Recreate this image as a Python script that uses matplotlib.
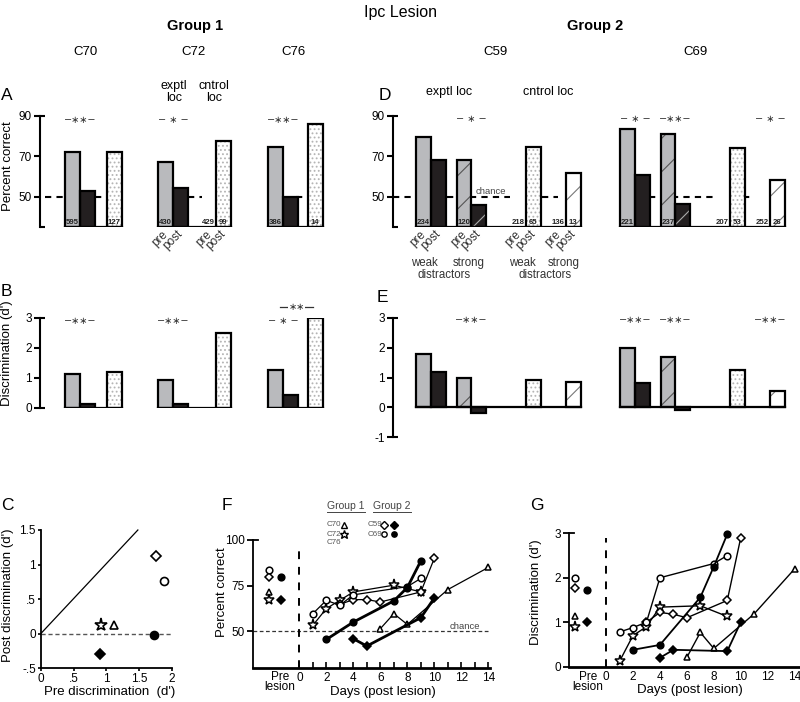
import matplotlib
matplotlib.use('Agg')
import matplotlib.pyplot as plt
from matplotlib.lines import Line2D

plt.rcParams['font.family'] = ['Liberation Sans', 'DejaVu Sans']
plt.rcParams['hatch.linewidth'] = 0.8

W, H = 800, 702

# ---------------- data ----------------
# Group 1: pre / post lesion at exptl loc, post at control loc
g1_names = ['C70', 'C72', 'C76']
g1_pct_pre = [72.3, 67.3, 74.5]
g1_pct_post = [53.0, 54.2, 50.0]
g1_pct_ctrl = [72.3, 77.8, 86.0]
g1_d_pre = [1.12, 0.91, 1.25]
g1_d_post = [0.13, 0.11, 0.41]
g1_d_ctrl = [1.19, 2.5, 3.0]
g1_n_pre = ['595', '430', '386']
g1_n_ctrl_pre = ['', '429', '']
g1_n_ctrl = ['127', '99', '14']
g1_sig_pct = ['−∗∗−', '− ∗ −', '−∗∗−']
g1_sig_d = ['−∗∗−', '−∗∗−', '− ∗ −']

# Group 2: weak / strong distractors, exptl and control loc
g2_names = ['C59', 'C69']
g2_pct_weak_pre = [79.5, 83.6]
g2_pct_weak_post = [68.2, 60.6]
g2_pct_strong_pre = [68.2, 81.1]
g2_pct_strong_post = [45.7, 46.4]
g2_pct_ctrl_weak = [74.5, 74.0]
g2_pct_ctrl_strong = [61.9, 58.3]
g2_d_weak_pre = [1.8, 2.0]
g2_d_weak_post = [1.2, 0.82]
g2_d_strong_pre = [1.0, 1.7]
g2_d_strong_post = [-0.2, -0.1]
g2_d_ctrl_weak = [0.9, 1.25]
g2_d_ctrl_strong = [0.85, 0.55]
g2_n_weak_pre = ['234', '221']
g2_n_strong_pre = ['120', '237']
g2_n_ctrl_weak_pre = ['218', '207']
g2_n_ctrl_weak_post = ['65', '53']
g2_n_ctrl_strong_pre = ['136', '252']
g2_n_ctrl_strong_post = ['13', '26']
g2_sig_pct = [['', '− ∗ −', ''], ['− ∗ −', '−∗∗−', '− ∗ −']]
g2_sig_d = [['', '−∗∗−', ''], ['−∗∗−', '−∗∗−', '−∗∗−']]

# Panel C: pre vs post d'
c_series = ['C70', 'C72', 'C59s', 'C59w', 'C69w', 'C69s']
c_pre = [1.12, 0.92, 0.91, 1.76, 1.88, 1.72]
c_post = [0.13, 0.13, -0.30, 1.13, 0.76, -0.02]

# Panels F / G: recovery after lesion
series = ['C70', 'C72', 'C59w', 'C59s', 'C69w', 'C69s']
days = {
    'C70': [6, 7, 8, 11, 14],
    'C72': [1, 2, 3, 4, 7, 9],
    'C59w': [3, 4, 5, 6, 9, 10],
    'C59s': [4, 5, 9, 10],
    'C69w': [1, 2, 3, 4, 8, 9],
    'C69s': [2, 4, 7, 8, 9],
}
pct_days = {
    'C70': [51.5, 59.7, 53.8, 72.9, 85.0],
    'C72': [53.3, 62.5, 67.0, 71.6, 75.3, 71.6],
    'C59w': [64.8, 67.4, 67.4, 66.1, 71.6, 90.0],
    'C59s': [46.0, 42.0, 57.5, 68.3],
    'C69w': [59.7, 67.0, 64.3, 70.0, 74.5, 79.0],
    'C69s': [45.6, 55.1, 66.7, 74.0, 88.6],
}
d_days = {
    'C70': [0.21, 0.77, 0.41, 1.19, 2.2],
    'C72': [0.12, 0.7, 0.9, 1.34, 1.37, 1.13],
    'C59w': [1.0, 1.22, 1.18, 1.1, 1.49, 2.9],
    'C59s': [0.2, 0.38, 0.35, 1.0],
    'C69w': [0.78, 0.88, 1.0, 2.0, 2.32, 2.5],
    'C69s': [0.38, 0.49, 1.56, 2.25, 2.98],
}
pct_prelesion = {'C69w': 83.5, 'C59w': 79.8, 'C69s': 79.8, 'C70': 71.6, 'C72': 67.0, 'C59s': 67.0}
d_prelesion = {'C69w': 2.0, 'C59w': 1.77, 'C69s': 1.72, 'C70': 1.13, 'C72': 0.9, 'C59s': 1.0}

# ---------------- style ----------------
GRAY = '#b9babd'
BLACK = '#231f20'
MK = {'C70': ('^', False, 5), 'C72': ('*', False, 8), 'C59w': ('D', False, 4.5),
      'C59s': ('D', True, 4.5), 'C69w': ('o', False, 4.8), 'C69s': ('o', True, 4.8)}
STY = {
    'pre': (GRAY, None, None),
    'post': (BLACK, None, None),
    'ctrl': ('white', '....', '#b5b5b5'),
    'spre': (GRAY, '/', '#555555'),
    'spost': (BLACK, '/', '#aaaaaa'),
    'sctrl': ('white', '/', '#777777'),
}
BW = 14.5

fig = plt.figure(figsize=(W / 100, H / 100), dpi=100)


def fx(x):
    return x / W


def fy(y):
    return 1 - y / H


def ftext(x, y, s, **kw):
    fig.text(fx(x), fy(y), s, **kw)


def px_axes(x0, y0, x1, y1):
    ax = fig.add_axes([x0 / W, 1 - y1 / H, (x1 - x0) / W, (y1 - y0) / H])
    ax.patch.set_alpha(0)
    return ax


def bar_axis(ax, x0, x1, ylo, yhi, ticks):
    ax.set_xlim(x0, x1)
    ax.set_ylim(ylo, yhi)
    for s in ['top', 'right', 'bottom']:
        ax.spines[s].set_visible(False)
    ax.spines['left'].set_linewidth(1.5)
    ax.set_xticks([])
    ax.set_yticks(ticks)
    ax.set_yticklabels([f'{t:g}' for t in ticks])
    ax.tick_params(axis='y', direction='out', length=4, width=1.5, labelsize=8.5, pad=2)
    for yy in (ylo, yhi):
        ax.plot([x0, x0 + 5], [yy, yy], color='k', lw=1.5, clip_on=False, solid_capstyle='butt')


def draw_bar(ax, x, val, base, style):
    if val is None or val == base:
        return
    fc, hatch, hc = STY[style]
    ax.bar(x, val - base, width=BW, bottom=base, align='edge', color=fc,
           edgecolor=hc if hc else fc, linewidth=0, hatch=hatch, zorder=2)
    ax.bar(x, val - base, width=BW, bottom=base, align='edge', fill=False,
           edgecolor='k', linewidth=1.6, zorder=3)


def count(ax, x, base, s):
    if s:
        ax.text(x + BW / 2, base, s, ha='center', va='bottom', fontsize=5.6,
                color='#222222', fontweight='bold', zorder=4)


def chance(ax, segs):
    for a, b in segs:
        ax.hlines(50, a, b, colors='k', linestyles=(0, (3, 2.5)), lw=1.5, zorder=1)


def sig(ax, x, y, s):
    if s:
        ax.text(x, y, s, ha='center', va='center', fontsize=7, color='#333333', clip_on=False,
                family=['DejaVu Sans'])


def rot_label(ax, x, y, s):
    ax.text(x, y, s, rotation=45, rotation_mode='anchor', ha='right', va='center',
            fontsize=8.5, color='#333333', clip_on=False)


# ---------------- A / B : group 1 ----------------
axA = px_axes(40, 116, 370, 227)
bar_axis(axA, 40, 370, 35, 90, [50, 70, 90])
axB = px_axes(40, 318, 370, 407.5)
bar_axis(axB, 40, 370, 0, 3, [0, 1, 2, 3])

g1_x0 = [65, 158, 268]
g1_ctrl_off = [42, 58, 40]
for i in range(len(g1_names)):
    x0 = g1_x0[i]
    xc = x0 + g1_ctrl_off[i]
    xs = [x0, x0 + 15, xc - BW, xc]
    for ax, base, vals, sg, sy in [
        (axA, 35, [g1_pct_pre[i], g1_pct_post[i], None, g1_pct_ctrl[i]], g1_sig_pct[i], 88),
        (axB, 0, [g1_d_pre[i], g1_d_post[i], None, g1_d_ctrl[i]], g1_sig_d[i], 2.9),
    ]:
        for x, v, st in zip(xs, vals, ['pre', 'post', 'pre', 'ctrl']):
            draw_bar(ax, x, v, base, st)
        ax.plot([x0, xc + BW], [base, base], color='k', lw=1.6, zorder=3)
        sig(ax, x0 + 15, sy, sg)
    count(axA, xs[0], 35.6, g1_n_pre[i])
    count(axA, xs[2], 35.6, g1_n_ctrl_pre[i])
    count(axA, xs[3], 35.6, g1_n_ctrl[i])
chance(axA, [(45, 65), (95, 107), (188, 202), (296, 308)])
axB.plot([280, 313], [3.38, 3.38], color='#333333', lw=0.9, clip_on=False)
axB.text(296.5, 3.38, '∗∗', ha='center', va='center', fontsize=7, color='#333333',
         clip_on=False, family=['DejaVu Sans'], bbox=dict(fc='white', ec='none', pad=0.3))
for x, s in zip([158 + BW / 2, 173 + BW / 2, 201.5 + BW / 2, 216 + BW / 2],
                ['pre', 'post', 'pre', 'post']):
    rot_label(axA, x + 1, 32.3, s)

# ---------------- D / E : group 2 ----------------
axD = px_axes(393, 116, 790, 227)
bar_axis(axD, 393, 790, 35, 90, [50, 70, 90])
axE = px_axes(393, 318, 790, 437)
bar_axis(axE, 393, 790, -1, 3, [-1, 0, 1, 2, 3])

g2_x0 = [416, 620]
offs = [0, 15, 40.5, 55, 95, 110, 135, 150]
for i in range(len(g2_names)):
    x0 = g2_x0[i]
    xs = [x0 + o for o in offs]
    pct_vals = [g2_pct_weak_pre[i], g2_pct_weak_post[i], g2_pct_strong_pre[i], g2_pct_strong_post[i],
                None, g2_pct_ctrl_weak[i], None, g2_pct_ctrl_strong[i]]
    d_vals = [g2_d_weak_pre[i], g2_d_weak_post[i], g2_d_strong_pre[i], g2_d_strong_post[i],
              None, g2_d_ctrl_weak[i], None, g2_d_ctrl_strong[i]]
    styles = ['pre', 'post', 'spre', 'spost', 'pre', 'ctrl', 'pre', 'sctrl']
    for ax, base, vals, sgs, sy in [(axD, 35, pct_vals, g2_sig_pct[i], 88.5),
                                    (axE, 0, d_vals, g2_sig_d[i], 2.93)]:
        for x, v, st in zip(xs, vals, styles):
            draw_bar(ax, x, v, base, st)
        ax.plot([x0, xs[-1] + BW], [base, base], color='k', lw=1.6, zorder=3)
        for xcen, s in zip([xs[1], xs[3], xs[7]], sgs):
            sig(ax, xcen, sy, s)
    for k, s in zip([0, 2, 4, 5, 6, 7],
                    [g2_n_weak_pre[i], g2_n_strong_pre[i], g2_n_ctrl_weak_pre[i],
                     g2_n_ctrl_weak_post[i], g2_n_ctrl_strong_pre[i], g2_n_ctrl_strong_post[i]]):
        count(axD, xs[k], 35.6, s)
    if i == 0:
        for x, s in zip(xs, ['pre', 'post'] * 4):
            rot_label(axD, x + BW / 2 + 1, 32.3, s)
chance(axD, [(393, 416), (447, 510), (542, 558), (649, 715), (743, 753)])
axD.text(491, 52.6, 'chance', ha='center', va='center', fontsize=6.8, color='#444444')

# distractor labels under C59
for x, y, s in [(424, 263, 'weak'), (469, 263, 'strong'), (444, 275, 'distractors'),
                (522, 263, 'weak'), (564, 263, 'strong'), (545, 275, 'distractors')]:
    ftext(x, y, s, ha='center', va='center', fontsize=8.3, color='#333333')

# ---------------- headers ----------------
ftext(400, 12, 'Ipc Lesion', ha='center', va='center', fontsize=11.5)
ftext(195, 26, 'Group 1', ha='center', va='center', fontsize=10.5, fontweight='bold')
ftext(595, 26, 'Group 2', ha='center', va='center', fontsize=10.5, fontweight='bold')
for x, s in zip([85, 193, 294, 495, 695], g1_names + g2_names):
    ftext(x, 52, s, ha='center', va='center', fontsize=9.5)
ftext(174, 92, 'exptl\nloc', ha='center', va='center', fontsize=9, linespacing=0.9)
ftext(214, 92, 'cntrol\nloc', ha='center', va='center', fontsize=9, linespacing=0.9)
ftext(449, 92, 'exptl loc', ha='center', va='center', fontsize=9)
ftext(548, 92, 'cntrol loc', ha='center', va='center', fontsize=9)
for x, y, s in [(1, 95, 'A'), (379, 95, 'D'), (1, 291, 'B'), (377, 298, 'E'),
                (1, 505, 'C'), (222, 505, 'F'), (530, 505, 'G')]:
    ftext(x, y, s, ha='left', va='center', fontsize=12.5)
ftext(8, 166, 'Percent correct', rotation=90, ha='center', va='center', fontsize=9.5)
ftext(7, 353, "Discrimination (d')", rotation=90, ha='center', va='center', fontsize=9.5)

# ---------------- C ----------------
axC = px_axes(40.7, 530, 172, 668.3)
axC.set_xlim(0, 2)
axC.set_ylim(-0.5, 1.5)
for s in ['top', 'right']:
    axC.spines[s].set_visible(False)
for s in ['left', 'bottom']:
    axC.spines[s].set_linewidth(1.3)
axC.set_xticks([0, 0.5, 1, 1.5, 2])
axC.set_xticklabels(['0', '.5', '1', '1.5', '2'])
axC.set_yticks([-0.5, 0, 0.5, 1, 1.5])
axC.set_yticklabels(['-.5', '0', '.5', '1', '1.5'])
axC.tick_params(direction='out', length=2.5, width=1.2, labelsize=8.5, pad=1)
axC.plot([0, 1.48], [0, 1.5], color='k', lw=0.9, clip_on=False)
axC.plot([0, 2], [0, 0], color='#555555', lw=1, ls=(0, (3, 2)))
for name, xv, yv in zip(c_series, c_pre, c_post):
    m, filled, ms = MK[name]
    axC.plot(xv, yv, marker=m, ms=ms * 1.2, mfc='k' if filled else 'white', mec='k',
             mew=1.2, clip_on=False, zorder=4)
ftext(8, 595, "Post discrimination (d')", rotation=90, ha='center', va='center', fontsize=9.5)
ftext(110, 692, "Pre discrimination  (d')", ha='center', va='center', fontsize=9.5)


# ---------------- F / G ----------------
def time_axis(ax, xlo, xhi, ylo, yhi, yticks, xtick_len):
    ax.set_xlim(xlo, xhi)
    ax.set_ylim(ylo, yhi)
    for s in ['top', 'right']:
        ax.spines[s].set_visible(False)
    ax.spines['left'].set_linewidth(1.3)
    ax.spines['bottom'].set_linewidth(2)
    ax.set_yticks(yticks)
    ax.tick_params(axis='y', direction='out', length=4, width=1.3, labelsize=8.5, pad=2)
    ax.set_xticks(list(range(0, 15, 2)))
    ax.set_xticks(list(range(1, 15, 2)), minor=True)
    ax.tick_params(axis='x', which='both', direction='in', length=xtick_len, width=1.2,
                   labelsize=8.5, pad=3)
    ax.plot([xlo, xlo + 0.35], [yhi, yhi], color='k', lw=1.3, clip_on=False)


def draw_series(ax, data, pre, pre_x, thick_lw, thin_lw):
    for name in series:
        m, filled, ms = MK[name]
        ax.plot(days[name], data[name], color='k', lw=thick_lw if filled else thin_lw,
                marker=m, ms=ms, mfc='k' if filled else 'white', mec='k', mew=1.1,
                clip_on=False, zorder=4 if filled else 3)
        ax.plot(pre_x[1] if filled else pre_x[0], pre[name], marker=m, ms=ms,
                mfc='k' if filled else 'white', mec='k', mew=1.1, ls='none', zorder=4)


axF = px_axes(253, 540, 489.7, 668)
time_axis(axF, -3.43, 14.1, 30, 100, [50, 75, 100], 4)
axF.plot([-3.43, 14.0], [50, 50], color='#333333', lw=0.9, ls=(0, (3, 2)), zorder=1)
axF.plot([0, 0], [30, 96], color='k', lw=1.4, ls=(0, (4, 4)), zorder=1)
axF.text(13.4, 52.8, 'chance', ha='right', va='center', fontsize=6.8, color='#444444')
draw_series(axF, pct_days, pct_prelesion, [-2.25, -1.38], 2.0, 0.9)
ftext(222, 592, 'Percent correct', rotation=90, ha='center', va='center', fontsize=9.5)
ftext(280, 682, 'Pre\nlesion', ha='center', va='center', fontsize=8.5, linespacing=0.8)
ftext(383, 692, 'Days (post lesion)', ha='center', va='center', fontsize=9.5)

# legend of F
ftext(346, 506, 'Group 1', ha='center', va='center', fontsize=7.5, color='#444444')
ftext(392, 506, 'Group 2', ha='center', va='center', fontsize=7.5, color='#444444')
for a, b in [(327, 365), (373, 411)]:
    fig.add_artist(Line2D([fx(a), fx(b)], [fy(512), fy(512)], transform=fig.transFigure,
                          color='#444444', lw=0.7))
for x, y, s in [(327, 525, 'C70'), (327, 534, 'C72'), (327, 543, 'C76'),
                (368, 525, 'C59'), (368, 534, 'C69')]:
    ftext(x, y, s, ha='left', va='center', fontsize=5.8, color='#555555')
for x, y, name in [(344, 525, 'C70'), (344, 534, 'C72'), (384, 525, 'C59w'),
                   (394, 525, 'C59s'), (384, 534, 'C69w'), (394, 534, 'C69s')]:
    m, filled, ms = MK[name]
    fig.add_artist(Line2D([fx(x)], [fy(y)], transform=fig.transFigure, marker=m,
                          ms=ms * 0.8, mfc='k' if filled else 'white', mec='k', mew=1.0, ls='none'))

axG = px_axes(569, 533.3, 800, 666.7)
time_axis(axG, -2.75, 14.4, 0, 3, [0, 1, 2, 3], 0)
axG.plot([0, 0], [0, 2.9], color='k', lw=1.4, ls=(0, (4, 4)), zorder=1)
draw_series(axG, d_days, d_prelesion, [-2.3, -1.43], 1.3, 1.0)
ftext(536, 592, "Discrimination (d')", rotation=90, ha='center', va='center', fontsize=9.5)
ftext(588, 682, 'Pre\nlesion', ha='center', va='center', fontsize=8.5, linespacing=0.8)
ftext(690, 690, 'Days (post lesion)', ha='center', va='center', fontsize=9.5)

fig.savefig('out.png', dpi=100)
